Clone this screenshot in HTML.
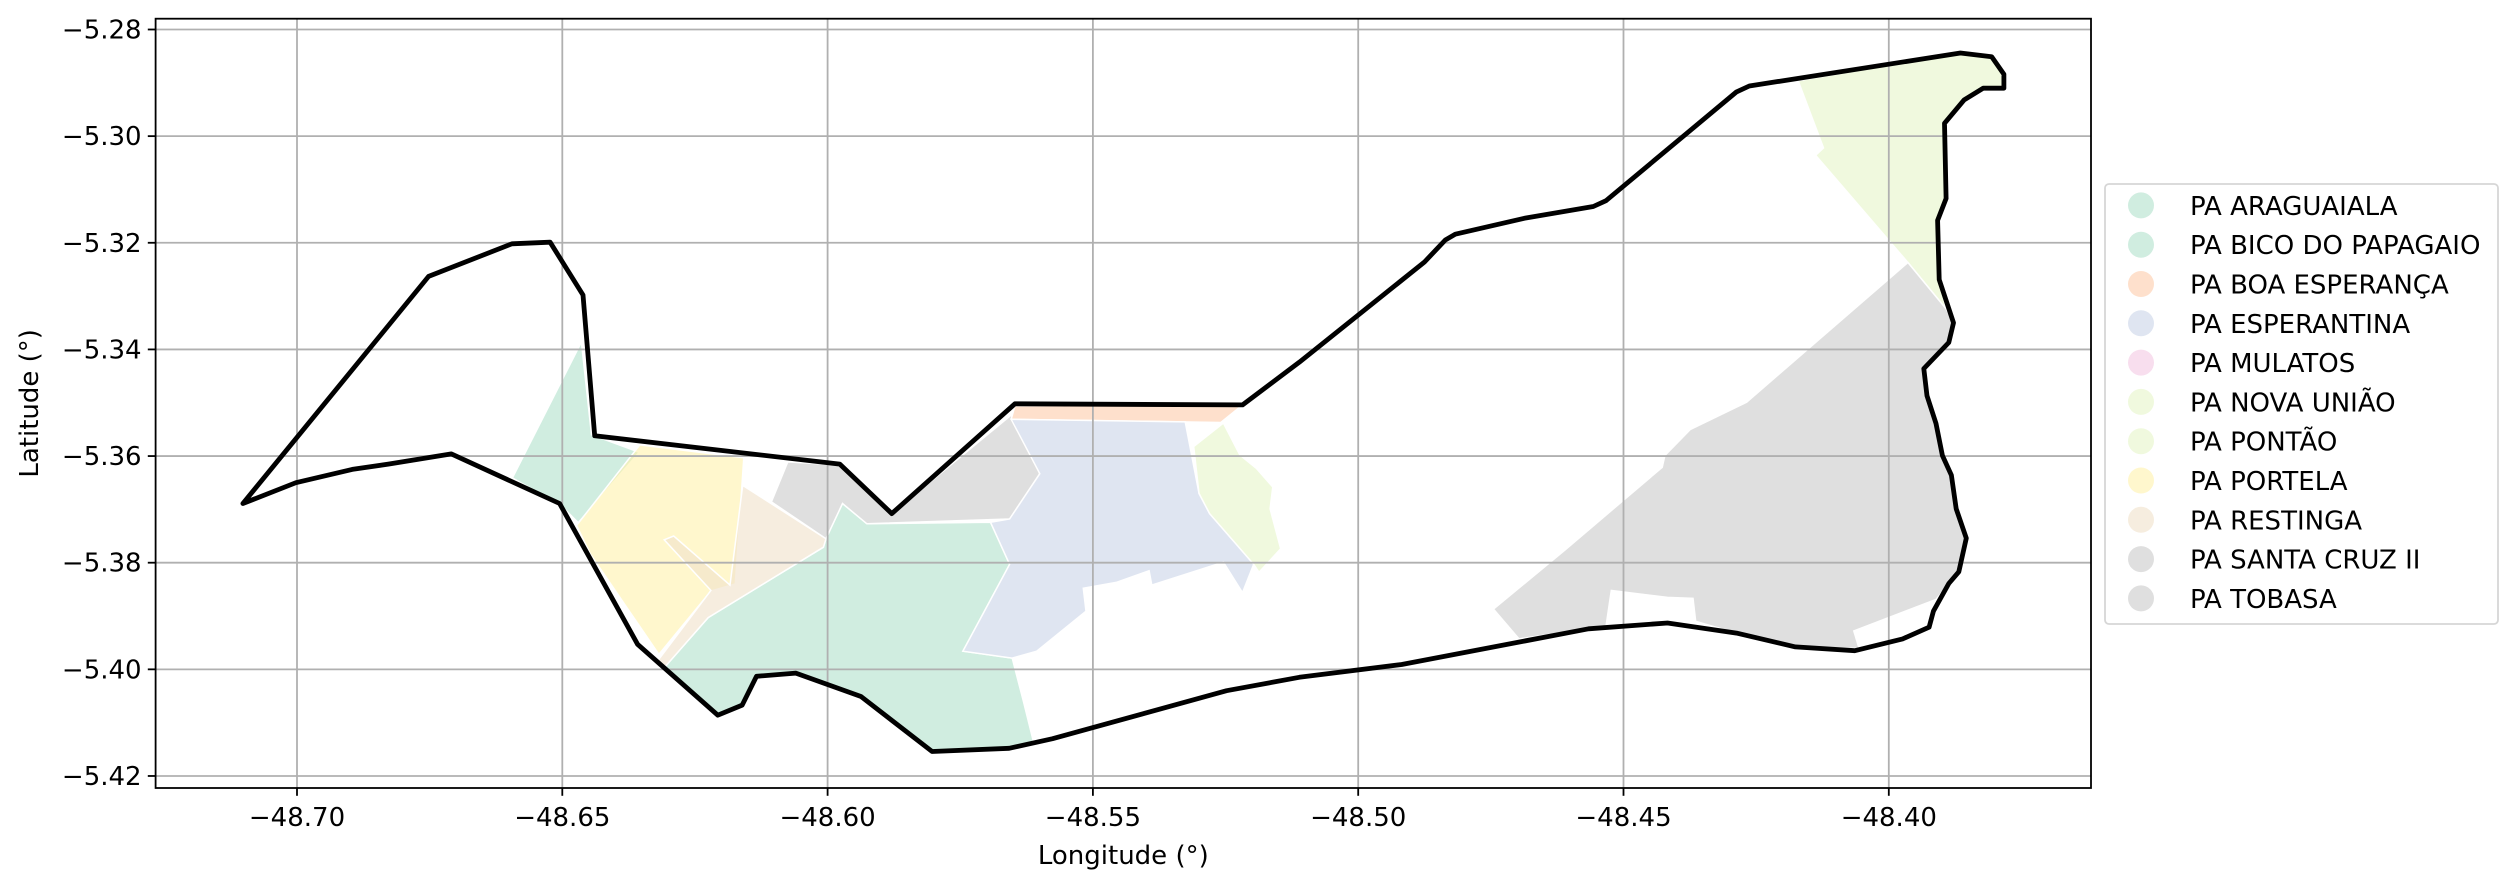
<!DOCTYPE html>
<html><head><meta charset="utf-8"><style>
html,body{margin:0;padding:0;background:#fff;}
svg{display:block;font-family:"DejaVu Sans","Liberation Sans",sans-serif;}
</style></head><body>
<svg id="chart" width="2517" height="890" viewBox="0 0 2517 890" xmlns="http://www.w3.org/2000/svg"></svg>
<script>
const xTicks = [-48.70,-48.65,-48.60,-48.55,-48.50,-48.45,-48.40];
const xTickLabels = ["−48.70","−48.65","−48.60","−48.55","−48.50","−48.45","−48.40"];
const yTicks = [-5.28,-5.30,-5.32,-5.34,-5.36,-5.38,-5.40,-5.42];
const yTickLabels = ["−5.28","−5.30","−5.32","−5.34","−5.36","−5.38","−5.40","−5.42"];
const legendNames = ["PA ARAGUAIALA","PA BICO DO PAPAGAIO","PA BOA ESPERANÇA","PA ESPERANTINA","PA MULATOS","PA NOVA UNIÃO","PA PONTÃO","PA PORTELA","PA RESTINGA","PA SANTA CRUZ II","PA TOBASA"];
const legendColors = ["#b3e2cd","#b3e2cd","#fdcdac","#cbd5e8","#f4cae4","#e6f5c9","#e6f5c9","#fff2ae","#f1e2cc","#cccccc","#cccccc"];

const polyAraguaiala = [[-48.6594,-5.3641],[-48.6464,-5.3386],[-48.6445,-5.3560],[-48.6355,-5.3593],[-48.6470,-5.3725],[-48.6500,-5.3695]];
const polyBico = [[-48.6308,-5.3997],[-48.6225,-5.3903],[-48.6008,-5.3771],[-48.6003,-5.3755],[-48.5972,-5.3689],[-48.5926,-5.3727],[-48.5693,-5.3724],[-48.5657,-5.3803],[-48.5745,-5.3966],[-48.5652,-5.3979],[-48.5631,-5.4060],[-48.5612,-5.4136],[-48.5658,-5.4148],[-48.5803,-5.4154],[-48.5937,-5.4051],[-48.6060,-5.4007],[-48.6134,-5.4013],[-48.6161,-5.4067],[-48.6207,-5.4086],[-48.6308,-5.3997]];
const polyBoa = [[-48.5647,-5.3506],[-48.5218,-5.3504],[-48.5259,-5.3537],[-48.5654,-5.3531]];
const polyEsperantina = [[-48.5654,-5.3531],[-48.5326,-5.3536],[-48.5300,-5.3670],[-48.5280,-5.3708],[-48.5197,-5.3803],[-48.5218,-5.3856],[-48.5254,-5.3799],[-48.5389,-5.3842],[-48.5394,-5.3815],[-48.5456,-5.3837],[-48.5518,-5.3848],[-48.5513,-5.3891],[-48.5606,-5.3966],[-48.5652,-5.3979],[-48.5745,-5.3966],[-48.5657,-5.3803],[-48.5693,-5.3724],[-48.5657,-5.3718],[-48.5600,-5.3633]];
const polyNovaUniao = [[-48.4171,-5.2896],[-48.4123,-5.3022],[-48.4138,-5.3036],[-48.3964,-5.3237],[-48.3892,-5.3324],[-48.3905,-5.3269],[-48.3908,-5.3158],[-48.3892,-5.3117],[-48.3895,-5.2976],[-48.3858,-5.2932],[-48.3822,-5.2910],[-48.3783,-5.2910],[-48.3783,-5.2884],[-48.3806,-5.2851],[-48.3865,-5.2844]];
const polyPontao = [[-48.5310,-5.3582],[-48.5254,-5.3538],[-48.5223,-5.3598],[-48.5192,-5.3623],[-48.5161,-5.3658],[-48.5166,-5.3699],[-48.5146,-5.3774],[-48.5187,-5.3818],[-48.5197,-5.3803],[-48.5280,-5.3708],[-48.5300,-5.3670]];
const polyPortela = [[-48.6354,-5.3579],[-48.6158,-5.3603],[-48.6174,-5.3840],[-48.6220,-5.3853],[-48.6318,-5.3972],[-48.6447,-5.3784],[-48.6473,-5.3730]];
const polyRestinga = [[-48.6160,-5.3655],[-48.6003,-5.3755],[-48.6008,-5.3771],[-48.6225,-5.3903],[-48.6308,-5.3997],[-48.6321,-5.3985],[-48.6220,-5.3852],[-48.6308,-5.3757],[-48.6290,-5.3750],[-48.6184,-5.3842]];
const polySantaCruz = [[-48.4745,-5.3887],[-48.4610,-5.3776],[-48.4427,-5.3621],[-48.4422,-5.3599],[-48.4374,-5.3550],[-48.4268,-5.3499],[-48.3964,-5.3237],[-48.3892,-5.3324],[-48.3878,-5.3350],[-48.3887,-5.3387],[-48.3934,-5.3436],[-48.3928,-5.3487],[-48.3911,-5.3539],[-48.3899,-5.3599],[-48.3882,-5.3636],[-48.3873,-5.3699],[-48.3854,-5.3754],[-48.3868,-5.3817],[-48.3911,-5.3869],[-48.4066,-5.3928],[-48.4056,-5.3961],[-48.4176,-5.3958],[-48.4287,-5.3932],[-48.4364,-5.3910],[-48.4369,-5.3867],[-48.4417,-5.3865],[-48.4523,-5.3852],[-48.4533,-5.3919],[-48.4697,-5.3943]];
const polyTobasa = [[-48.6075,-5.3611],[-48.5977,-5.3617],[-48.5879,-5.3708],[-48.5654,-5.3523],[-48.5600,-5.3633],[-48.5657,-5.3718],[-48.5926,-5.3727],[-48.5972,-5.3689],[-48.6003,-5.3755],[-48.6106,-5.3686]];
const outline = [[-48.7102,-5.3689],[-48.6752,-5.3263],[-48.6595,-5.3202],[-48.6523,-5.3199],[-48.6461,-5.3298],[-48.6439,-5.3562],[-48.5977,-5.3615],[-48.5879,-5.3708],[-48.5647,-5.3502],[-48.5218,-5.3504],[-48.5111,-5.3424],[-48.4875,-5.3236],[-48.4836,-5.3195],[-48.4817,-5.3184],[-48.4687,-5.3154],[-48.4557,-5.3132],[-48.4533,-5.3121],[-48.4287,-5.2917],[-48.4263,-5.2906],[-48.3865,-5.2844],[-48.3806,-5.2851],[-48.3783,-5.2884],[-48.3783,-5.2910],[-48.3822,-5.2910],[-48.3858,-5.2932],[-48.3895,-5.2976],[-48.3892,-5.3117],[-48.3908,-5.3158],[-48.3905,-5.3269],[-48.3878,-5.3350],[-48.3887,-5.3387],[-48.3934,-5.3436],[-48.3928,-5.3487],[-48.3911,-5.3539],[-48.3899,-5.3599],[-48.3882,-5.3636],[-48.3873,-5.3699],[-48.3854,-5.3754],[-48.3868,-5.3817],[-48.3887,-5.3839],[-48.3916,-5.3891],[-48.3924,-5.3921],[-48.3974,-5.3943],[-48.4064,-5.3965],[-48.4176,-5.3958],[-48.4287,-5.3932],[-48.4417,-5.3913],[-48.4566,-5.3924],[-48.4918,-5.3991],[-48.5111,-5.4015],[-48.5248,-5.4040],[-48.5576,-5.4130],[-48.5658,-5.4148],[-48.5803,-5.4154],[-48.5937,-5.4051],[-48.6060,-5.4007],[-48.6134,-5.4013],[-48.6161,-5.4067],[-48.6207,-5.4086],[-48.6358,-5.3953],[-48.6505,-5.3689],[-48.6709,-5.3596],[-48.6828,-5.3615],[-48.6896,-5.3625],[-48.7002,-5.3650]];

const NS = "http://www.w3.org/2000/svg";
const svg = document.getElementById("chart");
const AX = {left:155.6, right:2091, top:18.7, bottom:788};
const FS = 26;
function xs(lon){ return 297 + (lon + 48.70) * 5306; }
function ys(lat){ return 29.5 + (-5.28 - lat) * 5332; }
function mk(tag, attrs, parent){
  const e = document.createElementNS(NS, tag);
  for (const k in attrs) e.setAttribute(k, attrs[k]);
  (parent || svg).appendChild(e);
  return e;
}
function pts(poly){ return poly.map(p => xs(p[0]).toFixed(1) + "," + ys(p[1]).toFixed(1)).join(" "); }

const regions = [
  ["region-araguaiala", polyAraguaiala, legendColors[0]],
  ["region-bico-do-papagaio", polyBico, legendColors[1]],
  ["region-portela", polyPortela, legendColors[7]],
  ["region-restinga", polyRestinga, legendColors[8]],
  ["region-tobasa", polyTobasa, legendColors[10]],
  ["region-boa-esperanca", polyBoa, legendColors[2]],
  ["region-esperantina", polyEsperantina, legendColors[3]],
  ["region-pontao", polyPontao, legendColors[6]],
  ["region-nova-uniao", polyNovaUniao, legendColors[5]],
  ["region-santa-cruz-ii", polySantaCruz, legendColors[9]]
];
regions.forEach(r => {
  const p = mk("polygon", {points: pts(r[1]), fill: r[2], "fill-opacity": 0.62, stroke: "#fff", "stroke-width": 1.5});
  
  
});

xTicks.forEach((v, i) => {
  const g = mk("line", {x1: xs(v), x2: xs(v), y1: AX.top, y2: AX.bottom, stroke: "#b0b0b0", "stroke-width": 1.8});
  
  
  const t = mk("line", {x1: xs(v), x2: xs(v), y1: AX.bottom, y2: AX.bottom + 7.8, stroke: "#000", "stroke-width": 1.8});
  
  
  const l = mk("text", {x: xs(v), y: AX.bottom + 38, "text-anchor": "middle", "font-size": FS, fill: "#000"});
  l.textContent = xTickLabels[i];
  
  
});
yTicks.forEach((v, i) => {
  const g = mk("line", {x1: AX.left, x2: AX.right, y1: ys(v), y2: ys(v), stroke: "#b0b0b0", "stroke-width": 1.8});
  
  
  const t = mk("line", {x1: AX.left - 7.8, x2: AX.left, y1: ys(v), y2: ys(v), stroke: "#000", "stroke-width": 1.8});
  
  
  const l = mk("text", {x: AX.left - 14, y: ys(v) + 9, "text-anchor": "end", "font-size": FS, fill: "#000"});
  l.textContent = yTickLabels[i];
  
  
});

const ol = mk("polygon", {points: pts(outline), fill: "none", stroke: "#000", "stroke-width": 4.8, "stroke-linejoin": "round"});



const fr = mk("rect", {x: AX.left, y: AX.top, width: AX.right - AX.left, height: AX.bottom - AX.top, fill: "none", stroke: "#000", "stroke-width": 1.8});



const xl = mk("text", {x: (AX.left + AX.right) / 2, y: 864, "text-anchor": "middle", "font-size": FS, fill: "#000"});
xl.textContent = "Longitude (°)";


const yl = mk("text", {x: 0, y: 0, "text-anchor": "middle", "font-size": FS, fill: "#000", transform: "translate(38," + ((AX.top + AX.bottom) / 2) + ") rotate(-90)"});
yl.textContent = "Latitude (°)";



const lg = mk("g", {});


const lb = mk("rect", {x: 2105, y: 184, width: 393, height: 440, rx: 4, fill: "#fff", "fill-opacity": 0.8, stroke: "#d6d6d6", "stroke-width": 1.8}, lg);


legendNames.forEach((n, i) => {
  const cy = 205.4 + i * 39.3;
  const c = mk("circle", {cx: 2141, cy: cy, r: 13, fill: legendColors[i], "fill-opacity": 0.62}, lg);
  
  
  const t = mk("text", {x: 2190, y: cy + 9.5, "font-size": FS, fill: "#000"}, lg);
  t.textContent = n;
  
  
});
</script>
</body></html>
